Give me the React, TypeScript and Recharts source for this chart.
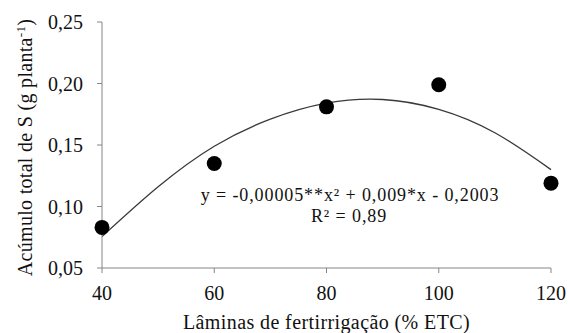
import { ComposedChart, Customized, Line, Scatter, XAxis, YAxis } from "recharts";

const laminas = [40, 60, 80, 100, 120];
const acumuloS = [0.083, 0.135, 0.181, 0.199, 0.119];

// fitted curve
const curveX = [40, 50, 60, 70, 80, 90, 100, 110, 120];
const curveY = [0.0755, 0.116, 0.149, 0.171, 0.184, 0.187, 0.179, 0.16, 0.13];

const xTicks = [40, 60, 80, 100, 120];
const yTicks = [0.05, 0.1, 0.15, 0.2, 0.25];

const font = "'Liberation Serif', Tinos, 'DejaVu Serif', serif";
const ink = "#111";
const axisGray = "#868686";

const points = laminas.map((x, i) => ({ x, y: acumuloS[i] }));
const curve = curveX.map((x, i) => ({ x, y: curveY[i] }));

const fmt = (v: number) => v.toFixed(2).replace(".", ",");

const txt = { fontFamily: font, fontSize: 20 };
const eq = { fontFamily: font, fontSize: 18 };

function Labels() {
  return (
    <g fill={ink}>
      <text x={350} y={201} style={eq} textAnchor="middle" letterSpacing={0.9}>
        y = -0,00005**x² + 0,009*x - 0,2003
      </text>
      <text x={349} y={222} style={eq} textAnchor="middle" letterSpacing={0.9}>
        R² = 0,89
      </text>
      <text x={326.5} y={329} style={txt} textAnchor="middle" letterSpacing={0.4}>
        Lâminas de fertirrigação (% ETC)
      </text>
      <text
        x={32}
        y={147.5}
        style={txt}
        textAnchor="middle"
        letterSpacing={0.3}
        transform="rotate(-90, 32, 147.5)"
      >
        Acúmulo total de S (g planta
        <tspan style={{ fontSize: 13 }} dy={-7}>-1</tspan>
        <tspan dy={7}>)</tspan>
      </text>
    </g>
  );
}

export default function App() {
  return (
    <div style={{ position: "absolute", left: 0, top: 0, background: "white", fontFamily: font }}>
      <ComposedChart width={568} height={333} margin={{ top: 22, right: 17, bottom: 0, left: 0 }}>
        <XAxis
          type="number"
          dataKey="x"
          domain={[40, 120]}
          ticks={xTicks}
          height={65}
          stroke={axisGray}
          tickSize={5}
          tickMargin={13}
          tick={{ fill: ink, fontSize: 20, style: txt }}
        />
        <YAxis
          type="number"
          dataKey="y"
          domain={[0.05, 0.25]}
          ticks={yTicks}
          width={102}
          stroke={axisGray}
          tickSize={5}
          tickMargin={14}
          tickFormatter={fmt}
          tick={{ fill: ink, fontSize: 20, style: txt }}
        />
        <Line
          data={curve}
          dataKey="y"
          type="natural"
          stroke="#3a3a3a"
          strokeWidth={1.3}
          dot={false}
          activeDot={false}
          isAnimationActive={false}
        />
        <Scatter
          data={points}
          dataKey="y"
          fill="#000"
          shape={(p: any) => <circle cx={p.cx} cy={p.cy} r={7.5} fill="#000" />}
          isAnimationActive={false}
        />
        <Customized component={Labels} />
      </ComposedChart>
    </div>
  );
}
